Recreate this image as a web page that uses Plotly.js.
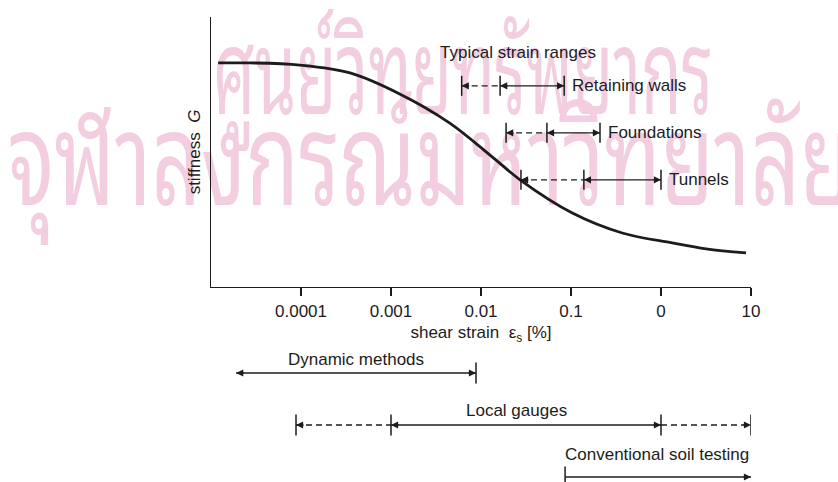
<!DOCTYPE html>
<html>
<head>
<meta charset="utf-8">
<script src="https://cdn.plot.ly/plotly-3.0.1.min.js"></script>
<style>
  html, body { margin: 0; padding: 0; background: #fff; }
  #chart { width: 838px; height: 482px; }
</style>
</head>
<body>
<div id="chart"></div>
<script>
// Stiffness degradation with shear strain, with typical strain ranges
// of structures and of the test methods able to measure them.

const strain    = [1.2e-5, 2.7e-5, 9.7e-5, 3.5e-4, 1.25e-3, 4.5e-3, 0.0134, 0.0274, 0.1035, 0.371, 1.33, 3.17, 8.8];
const stiffness = [0.830, 0.830, 0.822, 0.793, 0.715, 0.607, 0.481, 0.396, 0.274, 0.200, 0.163, 0.141, 0.126];

const strainTickVals = [1e-4, 1e-3, 1e-2, 1e-1, 1, 10];
const strainTickText = ['0.0001', '0.001', '0.01', '0.1', '0', '10'];

// Structures: dashed from -> mid, solid mid -> to
const structureNames = ['Retaining walls', 'Foundations', 'Tunnels'];
const structureFrom  = [0.0061, 0.019, 0.0278];
const structureMid   = [0.0163, 0.054, 0.139];
const structureTo    = [0.084, 0.21, 1.0];

// Test methods
const methodNames       = ['Dynamic methods', 'Local gauges', 'Conventional soil testing'];
const dynamicRange      = [1.9e-5, 0.0088];
const localGaugeRange   = [8.8e-5, 0.001, 1, 10];   // dashed, solid, dashed
const conventionalRange = [0.086, 10];

const watermarkLines = ['ศูนย์วิทยทรัพยากร', 'จุฬาลงกรณ์มหาวิทยาลัย'];

// ---- drawing ----
const ink = '#1c1c1c';
const FONT = 'Liberation Sans, Arial, Helvetica, sans-serif';
const THAI = "'Noto Sans Thai Looped', 'Noto Sans Thai', 'Noto Serif Thai', Loma, Garuda, Waree, sans-serif";

const rowTopG = 0.745, rowStepG = 0.174, tickHalfG = 0.037;
const structureRows = structureNames.map((_, i) => rowTopG - i * rowStepG);
const methodRow = { dynamic: 3, local: 2, conventional: 1 };
const tickHalfRow = 0.2;

function segments(pairs) {
  const x = [], y = [];
  pairs.forEach(([x0, x1, yy]) => { x.push(x0, x1, null); y.push(yy, yy, null); });
  return { x, y };
}
function ticks(list, half) {
  const x = [], y = [];
  list.forEach(([xx, yy]) => { x.push(xx, xx, null); y.push(yy - half, yy + half, null); });
  return { x, y };
}
function lineTrace(d, yaxis, dash, width) {
  return { x: d.x, y: d.y, yaxis: yaxis, mode: 'lines', hoverinfo: 'skip', showlegend: false,
           line: { color: ink, width: width || 1.3, dash: dash || 'solid' } };
}

const traces = [];
traces.push({
  x: strain, y: stiffness, mode: 'lines', showlegend: false, hoverinfo: 'skip',
  line: { color: ink, width: 2.8, shape: 'spline', smoothing: 1 }
});

// structure ranges
traces.push(lineTrace(segments(structureRows.map((r, i) => [structureFrom[i], structureMid[i], r])), 'y', '6px,4px'));
traces.push(lineTrace(segments(structureRows.map((r, i) => [structureMid[i], structureTo[i], r])), 'y'));
const sTicks = [];
structureRows.forEach((r, i) => { sTicks.push([structureFrom[i], r], [structureMid[i], r], [structureTo[i], r]); });
traces.push(lineTrace(ticks(sTicks, tickHalfG), 'y', 'solid', 1.5));

// test method ranges
traces.push(lineTrace(segments([[dynamicRange[0], dynamicRange[1], methodRow.dynamic]]), 'y2'));
traces.push(lineTrace(segments([
  [localGaugeRange[0], localGaugeRange[1], methodRow.local],
  [localGaugeRange[2], localGaugeRange[3], methodRow.local]]), 'y2', '6px,4px'));
traces.push(lineTrace(segments([
  [localGaugeRange[1], localGaugeRange[2], methodRow.local],
  [conventionalRange[0], conventionalRange[1], methodRow.conventional]]), 'y2'));
traces.push(lineTrace(ticks([
  [dynamicRange[1], methodRow.dynamic],
  [localGaugeRange[0], methodRow.local], [localGaugeRange[1], methodRow.local],
  [localGaugeRange[2], methodRow.local], [localGaugeRange[3], methodRow.local],
  [conventionalRange[0], methodRow.conventional]], tickHalfRow), 'y2', 'solid', 1.5));

// arrowheads
const annotations = [];
function head(x, y, yref, dir) {
  annotations.push({
    x: Math.log10(x), y: y, xref: 'x', yref: yref, text: '', showarrow: true,
    ax: dir < 0 ? 9 : -9, ay: 0, arrowhead: 2, arrowsize: 1.1, arrowwidth: 1.3,
    arrowcolor: ink, standoff: 0
  });
}
structureRows.forEach((r, i) => {
  head(structureFrom[i], r, 'y', -1);
  head(structureMid[i], r, 'y', -1);
  head(structureTo[i], r, 'y', 1);
});
head(dynamicRange[0], methodRow.dynamic, 'y2', -1);
head(dynamicRange[1], methodRow.dynamic, 'y2', 1);
head(localGaugeRange[0], methodRow.local, 'y2', -1);
head(localGaugeRange[1], methodRow.local, 'y2', -1);
head(localGaugeRange[2], methodRow.local, 'y2', 1);
head(localGaugeRange[3], methodRow.local, 'y2', 1);
head(conventionalRange[1], methodRow.conventional, 'y2', 1);

// labels
const labelFont = { family: FONT, size: 17, color: ink };
structureRows.forEach((r, i) => {
  annotations.push({ x: Math.log10(structureTo[i]), y: r, xref: 'x', yref: 'y', text: structureNames[i],
    showarrow: false, xanchor: 'left', yanchor: 'middle', xshift: 6, font: labelFont });
});
annotations.push({ x: 0.5676, y: 0.9226, xref: 'paper', yref: 'paper', text: 'Typical strain ranges',
  showarrow: false, xanchor: 'center', yanchor: 'middle', font: labelFont });
annotations.push({
  x: (Math.log10(dynamicRange[0]) + Math.log10(dynamicRange[1])) / 2, y: methodRow.dynamic,
  xref: 'x', yref: 'y2', text: methodNames[0], showarrow: false, xanchor: 'center', yanchor: 'bottom',
  yshift: 2, font: labelFont });
annotations.push({
  x: (Math.log10(localGaugeRange[1]) + Math.log10(localGaugeRange[2])) / 2, y: methodRow.local,
  xref: 'x', yref: 'y2', text: methodNames[1], showarrow: false, xanchor: 'center', yanchor: 'bottom',
  xshift: -10, yshift: 3, font: labelFont });
annotations.push({
  x: Math.log10(conventionalRange[1]), y: methodRow.conventional,
  xref: 'x', yref: 'y2', text: methodNames[2], showarrow: false, xanchor: 'right', yanchor: 'bottom',
  yshift: 11, font: labelFont });

// background watermark, kept underneath the plot lines
const watermarkFont = { family: THAI, color: '#f3cde0', weight: 400 };
const watermarkWidths = [500, 845];
const shapes = [
  { type: 'rect', xref: 'paper', yref: 'paper', x0: -0.002, x1: 1.0, y0: 0.741, y1: 0.941,
    layer: 'below', line: { width: 0 }, fillcolor: 'rgba(0,0,0,0)',
    label: { text: watermarkLines[0], textposition: 'middle left', padding: 0,
             font: Object.assign({ size: 118 }, watermarkFont) } },
  { type: 'rect', xref: 'paper', yref: 'paper', x0: -0.3815, x1: 1.2, y0: 0.5495, y1: 0.7495,
    layer: 'below', line: { width: 0 }, fillcolor: 'rgba(0,0,0,0)',
    label: { text: watermarkLines[1], textposition: 'middle left', padding: 0,
             font: Object.assign({ size: 128 }, watermarkFont) } }
];

const layout = {
  width: 838, height: 482,
  margin: { l: 211, r: 87, t: 17, b: 0 },
  paper_bgcolor: '#fff', plot_bgcolor: 'rgba(0,0,0,0)',
  showlegend: false, hovermode: false,
  font: { family: FONT, size: 17, color: ink },
  xaxis: {
    type: 'log', range: [-5, 1], anchor: 'y',
    showline: true, linecolor: ink, linewidth: 1.5, mirror: false,
    ticks: 'outside', ticklen: 8, tickwidth: 1.5, tickcolor: ink,
    tickvals: strainTickVals, ticktext: strainTickText,
    tickfont: { family: FONT, size: 17, color: ink },
    showgrid: false, zeroline: false,
    title: { text: 'shear strain\u00a0 ε<sub>s</sub> [%]', font: { family: FONT, size: 17, color: ink }, standoff: 6 }
  },
  yaxis: {
    domain: [0.4194, 1], range: [0, 1],
    showline: true, linecolor: ink, linewidth: 1.5,
    ticks: '', showticklabels: false, showgrid: false, zeroline: false,
    title: { text: 'stiffness\u00a0\u00a0<i>G</i>', font: { family: FONT, size: 17, color: ink }, standoff: 4 }
  },
  yaxis2: {
    domain: [0, 0.3054], range: [0.904, 3.635], anchor: 'x',
    visible: false, showgrid: false, zeroline: false
  },
  annotations: annotations,
  shapes: shapes
};

Plotly.newPlot('chart', traces, layout, { staticPlot: true, displayModeBar: false }).then(gd => {
  // squeeze the watermark lines horizontally to their set widths
  gd.querySelectorAll('.layer-below text').forEach((t, i) => {
    if (watermarkWidths[i]) {
      t.setAttribute('textLength', watermarkWidths[i]);
      t.setAttribute('lengthAdjust', 'spacingAndGlyphs');
    }
  });
});
</script>
</body>
</html>
